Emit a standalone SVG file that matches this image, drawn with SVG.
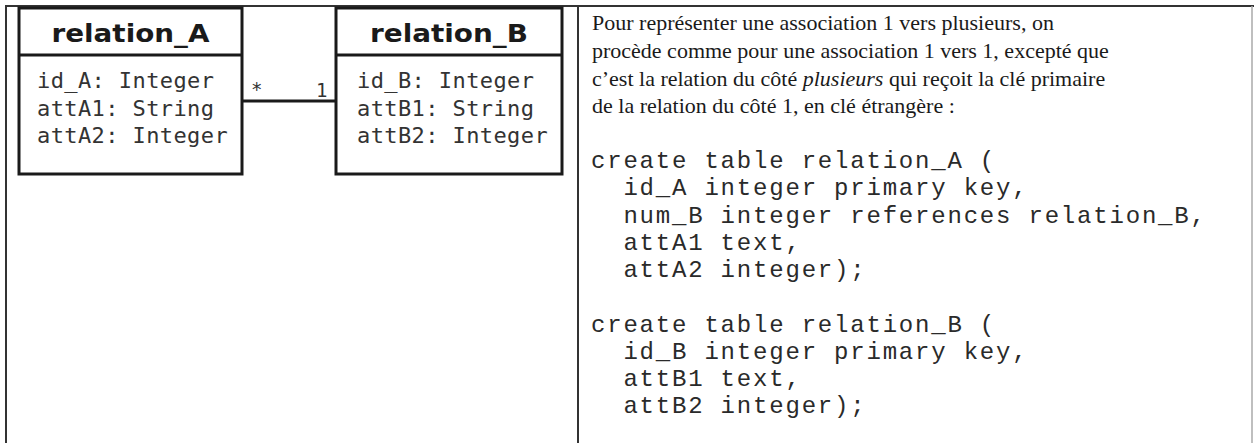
<svg xmlns="http://www.w3.org/2000/svg" width="1254" height="443" viewBox="0 0 1254 443">
  <style>
    .frame { stroke: #333; stroke-width: 2; fill: none; }
    .box { stroke: #1a1a1a; stroke-width: 3; fill: #fff; }
    .sep { stroke: #1a1a1a; stroke-width: 3; }
    .title { font-family: "DejaVu Sans", sans-serif; font-weight: bold; font-size: 24px; fill: #1a1a1a; text-anchor: middle; }
    .attr { font-family: "DejaVu Sans Mono", monospace; font-size: 22px; letter-spacing: 0.4px; fill: #333; }
    .mult { font-family: "DejaVu Sans Mono", monospace; font-size: 19px; fill: #333; }
    .para { font-family: "Liberation Serif", serif; font-size: 22px; fill: #1a1a1a; }
    .code { font-family: "Liberation Mono", monospace; font-size: 24px; letter-spacing: 1.8px; fill: #2a2a2a; }
    .conn { stroke: #1a1a1a; stroke-width: 3; fill: none; }
  </style>
  <rect x="0" y="0" width="1254" height="443" fill="#fff"/>
  <g id="frame">
    <line class="frame" x1="5" y1="6" x2="1254" y2="6"/>
    <line class="frame" x1="6" y1="6" x2="6" y2="443"/>
    <line class="frame" x1="578" y1="6" x2="578" y2="443"/>
    <line x1="1252" y1="6" x2="1252" y2="443" stroke="#aaa" stroke-width="1.5"/>
  </g>
  <g id="relation_A">
    <rect class="box" x="19" y="8" width="223" height="166"/>
    <line class="sep" x1="19" y1="55" x2="242" y2="55"/>
    <text class="title" x="130.5" y="42" textLength="158" lengthAdjust="spacingAndGlyphs">relation_A</text>
    <text class="attr" x="37" y="88">id_A: Integer</text>
    <text class="attr" x="37" y="116">attA1: String</text>
    <text class="attr" x="37" y="143">attA2: Integer</text>
  </g>
  <g id="relation_B">
    <rect class="box" x="336" y="8" width="226" height="166"/>
    <line class="sep" x1="336" y1="55" x2="562" y2="55"/>
    <text class="title" x="449" y="42" textLength="158" lengthAdjust="spacingAndGlyphs">relation_B</text>
    <text class="attr" x="357" y="88">id_B: Integer</text>
    <text class="attr" x="357" y="116">attB1: String</text>
    <text class="attr" x="357" y="143">attB2: Integer</text>
  </g>
  <g id="connectors">
    <line class="conn" x1="242" y1="101" x2="336" y2="101"/>
    <text class="mult" x="251" y="96">*</text>
    <text class="mult" x="316" y="97">1</text>
  </g>
  <g id="explanation">
    <text class="para" x="592" y="30">Pour représenter une association 1 vers plusieurs, on</text>
    <text class="para" x="592" y="58">procède comme pour une association 1 vers 1, excepté que</text>
    <text class="para" x="592" y="86">c’est la relation du côté <tspan font-style="italic">plusieurs</tspan> qui reçoit la clé primaire</text>
    <text class="para" x="592" y="113">de la relation du côté 1, en clé étrangère :</text>
    <text class="code" x="591" y="168" xml:space="preserve">create table relation_A (</text>
    <text class="code" x="591" y="195" xml:space="preserve">  id_A integer primary key,</text>
    <text class="code" x="591" y="222.5" xml:space="preserve">  num_B integer references relation_B,</text>
    <text class="code" x="591" y="249.5" xml:space="preserve">  attA1 text,</text>
    <text class="code" x="591" y="277" xml:space="preserve">  attA2 integer);</text>
    <text class="code" x="591" y="331.5" xml:space="preserve">create table relation_B (</text>
    <text class="code" x="591" y="358.5" xml:space="preserve">  id_B integer primary key,</text>
    <text class="code" x="591" y="386" xml:space="preserve">  attB1 text,</text>
    <text class="code" x="591" y="413" xml:space="preserve">  attB2 integer);</text>
  </g>
</svg>
